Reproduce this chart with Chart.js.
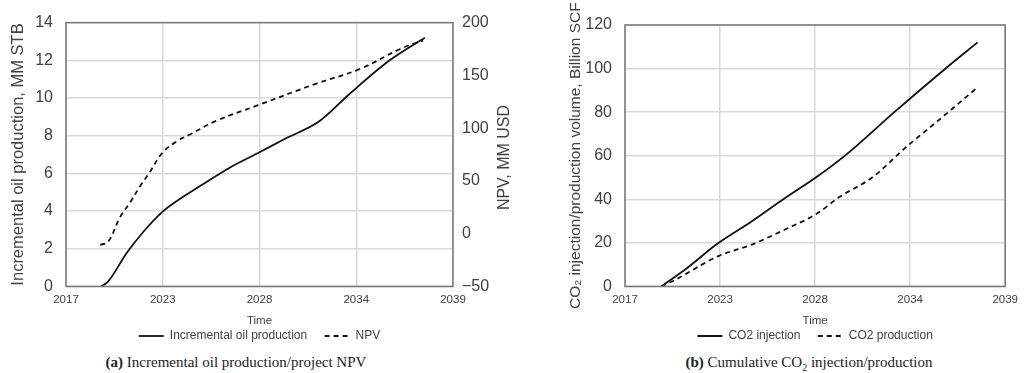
<!DOCTYPE html>
<html>
<head>
<meta charset="utf-8">
<script src="https://cdn.jsdelivr.net/npm/chart.js@4.4.1/dist/chart.umd.min.js"></script>
<style>
  body { margin: 0; background: #fff; width: 1025px; height: 373px; position: relative; overflow: hidden; font-family: "Liberation Sans", Arial, sans-serif; }
  .box { position: absolute; top: 0; height: 352px; }
  #boxA { left: 0; width: 515px; }
  #boxB { left: 555px; width: 470px; }
  .cap { position: absolute; top: 354px; font-family: "Liberation Serif", "Times New Roman", serif; font-size: 15px; color: #222; text-align: center; white-space: nowrap; }
</style>
</head>
<body>
<div class="box" id="boxA"><canvas id="chartA"></canvas></div>
<div class="box" id="boxB"><canvas id="chartB"></canvas></div>
<div class="cap" style="left:0;width:472px;"><b>(a)</b> Incremental oil production/project NPV</div>
<div class="cap" style="left:609px;width:400px;"><b>(b)</b> Cumulative CO<sub style="font-size:10px">2</sub> injection/production</div>

<script>
// x axis (shared)
const xTickValues = [2017, 2022.5, 2028, 2033.5, 2039];
const xTickLabels = ['2017', '2023', '2028', '2034', '2039'];

// (a) incremental oil production, MM STB
const oilYears = [2019.0, 2019.4, 2020.45, 2021.4, 2022.45, 2023.3, 2024.6, 2026.5, 2028.0, 2029.4, 2031.4, 2033.1, 2035.4, 2037.4];
const oilValues = [0, 0.27, 1.77, 2.9, 3.93, 4.53, 5.31, 6.4, 7.12, 7.81, 8.76, 10.2, 12.0, 13.2];

// (a) NPV, MM USD
const npvYears = [2018.95, 2019.4, 2020.07, 2020.64, 2021.2, 2021.77, 2022.5, 2023.3, 2024.05, 2025.56, 2027.8, 2031.2, 2033.7, 2036.0, 2037.3];
const npvValues = [-10.6, -7.6, 15.5, 29.4, 44.7, 58.5, 77, 87.5, 94, 107, 121, 142, 156, 175, 183];

// (b) cumulative CO2, Billion SCF
const injYears = [2019.1, 2020.5, 2022.4, 2024.3, 2026.2, 2028.1, 2029.8, 2032.6, 2035.5, 2037.4];
const injValues = [0, 7.9, 19.9, 29.7, 40.2, 50.3, 60.5, 80.1, 99.7, 112];
const prodYears = [2019.1, 2019.8, 2022.4, 2024.3, 2026.2, 2028.1, 2029.4, 2031.3, 2033.2, 2035.5, 2037.4];
const prodValues = [0, 2.6, 13.9, 19.1, 25.9, 33.4, 41, 50, 63.5, 78.6, 91.4];

const textColor = '#404040';
const gridColor = '#d9d9d9';
const fontFamily = '"Liberation Sans", Arial, sans-serif';
Chart.defaults.font.family = fontFamily;

const toPoints = (xs, ys) => xs.map((x, i) => ({ x: x, y: ys[i] }));

// frame round the plot area
const frame = {
    id: 'frame',
    afterDraw(chart) {
        const a = chart.chartArea;
        const ctx = chart.ctx;
        ctx.save();
        ctx.strokeStyle = '#7a7a7a';
        ctx.lineWidth = 1.5;
        ctx.strokeRect(a.left, a.top, a.right - a.left, a.bottom - a.top);
        ctx.restore();
    }
};

// right axis title, read bottom-to-top like the left one
const rightTitle = {
    id: 'rightTitle',
    afterDraw(chart) {
        const a = chart.chartArea;
        const ctx = chart.ctx;
        ctx.save();
        ctx.translate(chart.width - 10, (a.top + a.bottom) / 2 + 3);
        ctx.rotate(-Math.PI / 2);
        ctx.textAlign = 'center';
        ctx.textBaseline = 'middle';
        ctx.fillStyle = textColor;
        ctx.font = '16px ' + fontFamily;
        ctx.fillText('NPV, MM USD', 0, 0);
        ctx.restore();
    }
};

function lineSet(label, pts, dashed, axis, smooth) {
    return {
        label: label,
        data: pts,
        borderColor: '#111',
        backgroundColor: '#111',
        borderWidth: 1.8,
        borderDash: dashed ? [5, 4] : [],
        pointRadius: 0,
        tension: 0.4,
        cubicInterpolationMode: smooth ? 'default' : 'monotone',
        yAxisID: axis
    };
}

function xScale() {
    return {
        type: 'linear',
        min: 2017,
        max: 2039,
        afterBuildTicks: s => { s.ticks = xTickValues.map(v => ({ value: v })); },
        ticks: {
            autoSkip: false,
            maxRotation: 0,
            color: textColor,
            font: { size: 11.5 },
            padding: 7,
            callback: (v, i) => xTickLabels[i]
        },
        grid: { color: gridColor, lineWidth: 1.5, drawTicks: false },
        border: { display: false },
        title: { display: true, text: 'Time', color: textColor, font: { size: 11.5 }, padding: { top: 0, bottom: 0 } }
    };
}

function legendOpts() {
    return {
        position: 'bottom',
        fullSize: false,
        labels: {
            usePointStyle: true,
            pointStyle: 'line',
            pointStyleWidth: 25,
            color: textColor,
            font: { size: 12 },
            padding: 2,
            generateLabels: chart => {
                const items = Chart.defaults.plugins.legend.labels.generateLabels(chart);
                items.forEach((it, i) => {
                    const ds = chart.data.datasets[it.datasetIndex];
                    it.lineDash = ds.borderDash;
                    it.lineWidth = ds.borderWidth;
                    it.strokeStyle = ds.borderColor;
                    if (i < items.length - 1) it.text += '\u2002\u2002 ';
                });
                return items;
            }
        }
    };
}

new Chart(document.getElementById('chartA'), {
    type: 'line',
    data: {
        datasets: [
            lineSet('Incremental oil production', toPoints(oilYears, oilValues), false, 'y', false),
            lineSet('NPV', toPoints(npvYears, npvValues), true, 'y2', true)
        ]
    },
    options: {
        responsive: true,
        maintainAspectRatio: false,
        animation: false,
        layout: { padding: { top: 20, left: 0, right: 0, bottom: 0 } },
        plugins: { legend: legendOpts(), tooltip: { enabled: false } },
        scales: {
            x: xScale(),
            y: {
                position: 'left',
                min: 0,
                max: 14,
                afterFit: s => { s.width = 66; },
                ticks: { stepSize: 2, color: textColor, font: { size: 16 }, padding: 13 },
                grid: { color: gridColor, lineWidth: 1.5, drawTicks: false },
                border: { display: false },
                title: { display: true, text: 'Incremental oil production, MM STB', color: textColor, font: { size: 16.5 }, padding: { top: 9, bottom: 0 } }
            },
            y2: {
                position: 'right',
                min: -50,
                max: 200,
                afterFit: s => { s.width = 62; },
                ticks: { stepSize: 50, color: textColor, font: { size: 16 }, padding: 9,
                         callback: v => String(v).replace('-', '\u2212') },
                grid: { display: false, drawTicks: false },
                border: { display: false }
            }
        }
    },
    plugins: [frame, rightTitle]
});

new Chart(document.getElementById('chartB'), {
    type: 'line',
    data: {
        datasets: [
            lineSet('CO2 injection', toPoints(injYears, injValues), false, 'y', false),
            lineSet('CO2 production', toPoints(prodYears, prodValues), true, 'y', false)
        ]
    },
    options: {
        responsive: true,
        maintainAspectRatio: false,
        animation: false,
        layout: { padding: { top: 25, left: 0, right: 12, bottom: 0 } },
        plugins: { legend: legendOpts(), tooltip: { enabled: false } },
        scales: {
            x: xScale(),
            y: {
                position: 'left',
                min: 0,
                max: 120,
                afterFit: s => { s.width = 70; },
                ticks: { stepSize: 20, color: textColor, font: { size: 16 }, padding: 13 },
                grid: { color: gridColor, lineWidth: 1.5, drawTicks: false },
                border: { display: false },
                title: { display: true, text: 'CO\u2082 injection/production volume, Billion SCF', color: textColor, font: { size: 15.5 }, padding: { top: 11, bottom: 0 } }
            }
        }
    },
    plugins: [frame]
});
</script>
</body>
</html>
